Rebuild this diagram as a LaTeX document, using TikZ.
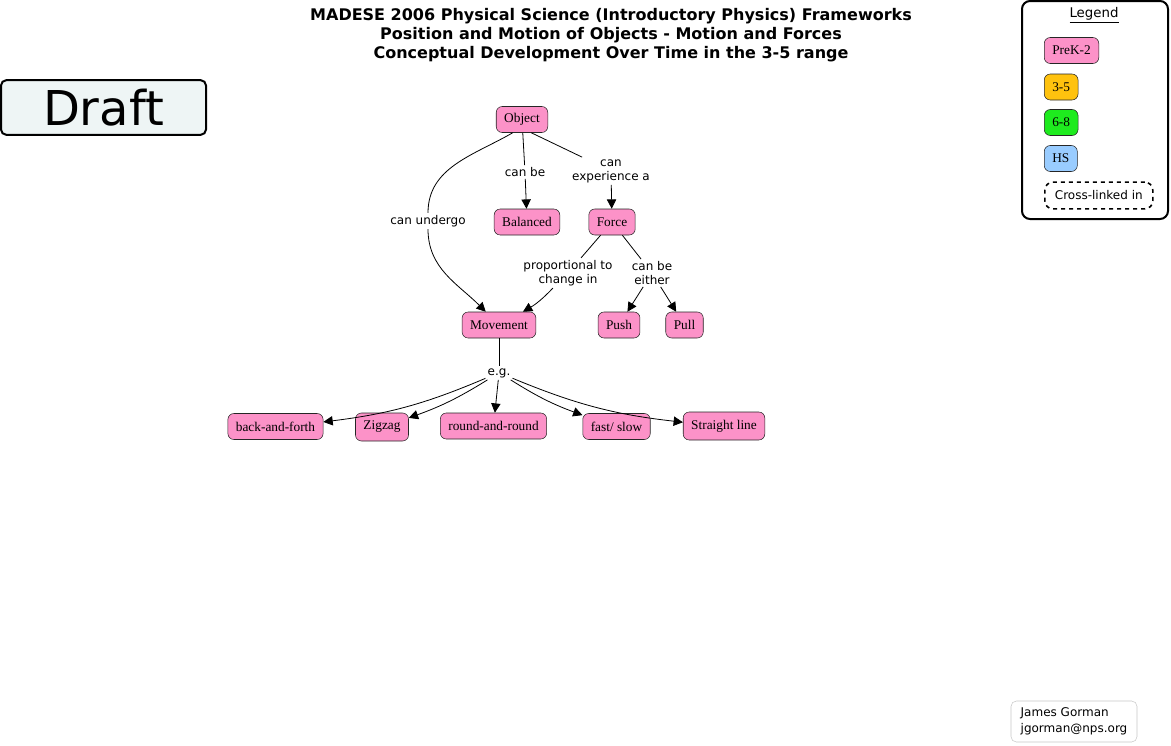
\documentclass[tikz,border=0pt]{standalone}
\usepackage{fontspec}
\setmainfont{Liberation Serif}
\setsansfont{DejaVu Sans}
\usetikzlibrary{arrows.meta,shapes}
\definecolor{prek}{HTML}{FC92C8}
\definecolor{gradefive}{HTML}{FFC20E}
\definecolor{gradeeight}{HTML}{1EEB1E}
\definecolor{gradehs}{HTML}{99CCFF}
\definecolor{draftbg}{HTML}{EEF5F5}
\tikzstyle{concept}=[rectangle,rounded corners=4.5pt,draw=black!85,fill=prek,font=\fontsize{10}{12}\selectfont,minimum height=19.5pt,inner xsep=6pt,inner ysep=0pt]
\tikzstyle{linkword}=[font=\sffamily\fontsize{9}{10.5}\selectfont,align=center,inner sep=1.5pt]
\tikzstyle{edge} = [draw,line width=0.6pt,-{Triangle[length=7pt,width=7pt]}]
\tikzstyle{undirectededge} = [draw,line width=0.6pt]
\tikzstyle{heading} = [font=\sffamily\bfseries\fontsize{12}{14.25}\selectfont,align=center]
\tikzstyle{legendtext} = [font=\sffamily\fontsize{9}{11}\selectfont]

\begin{document}
\begin{tikzpicture}[x=0.75pt,y=-0.75pt]
\useasboundingbox (0,0) rectangle (1171,746);

% Label
\node[heading] (head) at (611,35) {MADESE 2006 Physical Science (Introductory Physics) Frameworks\\Position and Motion of Objects - Motion and Forces\\Conceptual Development Over Time in the 3-5 range};
\node[draw,line width=1.5pt,rounded corners=4pt,fill=draftbg,minimum width=153.75pt,minimum height=41pt,font=\sffamily\fontsize{36}{36}\selectfont] (draft) at (103.5,107.5) {Draft};

%layer 1
    \foreach \pos/\name/\label in {{(522,119.5)/Object/Object}}
        \node[concept] (\name) at \pos {\label};
%layer 2
    \foreach \pos/\name/\label in {{(527,222)/Balanced/Balanced}, {(612,222)/Force/Force}}
        \node[concept] (\name) at \pos {\label};
%layer 3
    \foreach \pos/\name/\label in {{(499,325)/Movement/Movement}, {(619,325)/Push/Push}, {(684.5,325)/Pull/Pull}}
        \node[concept] (\name) at \pos {\label};
%layer 4
    \foreach \pos/\name/\label/\tall in {{(275.5,426.5)/back/back-and-forth/19.5}, {(382,427)/zig/Zigzag/21}, {(493.5,426)/round/round-and-round/19.5}, {(616.5,426.5)/fast/{fast/ slow}/19.5}, {(724,426)/straight/Straight line/21}}
        \node[concept,minimum height=\tall pt] (\name) at \pos {\label};

% linking words
  \node[linkword] (canbe) at (525,172) {can be};
  \node[linkword] (canexp) at (611,171) {can\\experience a};
  \node[linkword] (canundergo) at (428,221) {can undergo};
  \node[linkword] (propto) at (568,273) {proportional to\\change in};
  \node[linkword] (either) at (652,273) {can be\\either};
  \node[linkword] (eg) at (499,373) {e.g.};

% Connect concepts with linking words
  \path[undirectededge] (Object.-125) to[out=-150,in=90] (canundergo);
  \path[edge] (canundergo) to[out=-90,in=135] (Movement);
  \path[undirectededge] (Object) -- (canbe);
  \path[edge] (canbe) -- (Balanced);
  \path[undirectededge] (Object.-55) -- (canexp);
  \path[edge] (canexp) -- (Force);
	%layer 2
  \path[undirectededge] (Force) -- (propto);
  \path[edge] (propto) to[bend left=8] (Movement);
  \path[undirectededge] (Force) -- (either);
  \foreach \dest in {Push, Pull}
      \path[edge] (either) -- (\dest);
	%layer 3
  \path[undirectededge] (Movement) -- (eg);
  \foreach \dest/\bnd in {back/8, zig/6, round/0, fast/-6, straight/-8}
      \path[edge] (eg) to[bend left=\bnd] (\dest);

% Legend
\node[draw,line width=1.5pt,rounded corners=6pt,minimum width=109.5pt,minimum height=163.5pt] (legend) at (1095,110) {};
\node[legendtext,font=\sffamily\fontsize{10}{12}\selectfont] (legendhead) at (1094,15) {\underline{Legend}};
    \foreach \pos/\name/\label/\col in {{(1044,50.5)/lgprek/PreK-2/prek}, {(1044,87)/lgfive/3-5/gradefive}, {(1044,122.5)/lgeight/6-8/gradeeight}, {(1044,158.5)/lghs/HS/gradehs}}
        \node[concept,fill=\col,anchor=west] (\name) at \pos {\label};
\node[legendtext,draw,dashed,line width=1.2pt,rounded corners=6pt,anchor=west,minimum width=81pt,minimum height=20pt,inner xsep=3pt] (lgcross) at (1044,195.5) {Cross-linked in};

% author
\node[draw=black!22,rounded corners=4pt,minimum width=94.5pt,minimum height=30.75pt,align=left,font=\sffamily\fontsize{9}{12}\selectfont] (author) at (1074,721.5) {James Gorman\\jgorman@nps.org};

\end{tikzpicture}
\end{document}
